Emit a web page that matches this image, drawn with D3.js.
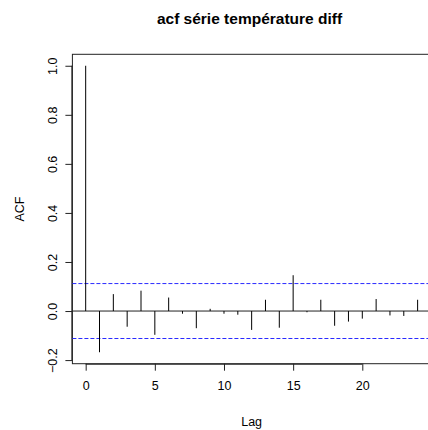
<!DOCTYPE html>
<html>
<head>
<meta charset="utf-8">
<script src="https://cdn.jsdelivr.net/npm/d3@7"></script>
<style>
  body { margin: 0; background: #fff; }
  text { font-family: "Liberation Sans", Arial, sans-serif; fill: #000; }
</style>
</head>
<body>
<div id="chart"></div>
<script>
var svgWidth = 428;
var svgHeight = 430;

// acf values, lag 0..24
var lags = d3.range(0, 25);
var acfValues = [1.0, -0.168, 0.069, -0.064, 0.083, -0.097, 0.055, -0.011, -0.070, 0.009,
                 -0.011, -0.015, -0.077, 0.046, -0.068, 0.146, -0.005, 0.046, -0.060, -0.043,
                 -0.031, 0.049, -0.018, -0.020, 0.046];
var ciLimit = 0.112;
var xTicks = [0, 5, 10, 15, 20];
var yTicks = [-0.2, 0.0, 0.2, 0.4, 0.6, 0.8, 1.0];

var plot = { left: 72.4, right: 430.9, top: 54.3, bottom: 363.7 };

var svg = d3.select("#chart")
    .append("svg")
    .attr("width", svgWidth)
    .attr("height", svgHeight);

// R style 4% padding around data range
var xMin = 0, xMax = 24;
var xPad = (xMax - xMin) * 0.04;
var yMin = d3.min(acfValues.concat([-ciLimit])), yMax = 1;
var yPad = (yMax - yMin) * 0.04;

var x = d3.scaleLinear()
    .domain([xMin - xPad, xMax + xPad])
    .range([plot.left, plot.right]);

var y = d3.scaleLinear()
    .domain([yMin - yPad, yMax + yPad])
    .range([plot.bottom, plot.top]);

// box
svg.append("rect")
    .attr("x", plot.left)
    .attr("y", plot.top)
    .attr("width", plot.right - plot.left)
    .attr("height", plot.bottom - plot.top)
    .attr("fill", "none")
    .attr("stroke", "#222")
    .attr("stroke-width", 1);

// axes
var bottomAxis = d3.axisBottom(x).tickValues(xTicks).tickSize(7).tickPadding(10).tickFormat(d3.format("d"));
var leftAxis = d3.axisLeft(y).tickValues(yTicks).tickSize(7).tickPadding(7).tickFormat(d3.format(".1f"));

var gx = svg.append("g")
    .attr("transform", `translate(0, ${plot.bottom})`)
    .call(bottomAxis);
gx.select(".domain").attr("d", `M${x(0)},0.5H${x(20)}`);
gx.selectAll("text").style("font-size", "12.5px");

var gy = svg.append("g")
    .attr("transform", `translate(${plot.left}, 0)`)
    .call(leftAxis);
gy.select(".domain").attr("d", `M-0.5,${y(-0.2)}V${y(1.0)}`);
gy.selectAll(".tick text")
    .style("font-size", "12.5px")
    .attr("text-anchor", "middle")
    .attr("x", 0)
    .attr("dy", 0)
    .attr("transform", "translate(-19,0) rotate(-90)")
    .attr("dominant-baseline", "middle");
svg.selectAll(".domain, .tick line").attr("stroke", "#222");

// zero line
svg.append("line")
    .attr("x1", plot.left)
    .attr("x2", plot.right)
    .attr("y1", y(0))
    .attr("y2", y(0))
    .attr("stroke", "#222");

// confidence limits
svg.selectAll(".ci")
    .data([ciLimit, -ciLimit])
    .enter()
    .append("line")
    .attr("class", "ci")
    .attr("x1", plot.left)
    .attr("x2", plot.right)
    .attr("y1", d => y(d))
    .attr("y2", d => y(d))
    .attr("stroke", "#2a2aff")
    .attr("stroke-dasharray", "4,2");

// acf spikes
svg.selectAll(".spike")
    .data(lags)
    .enter()
    .append("line")
    .attr("class", "spike")
    .attr("x1", d => x(d))
    .attr("x2", d => x(d))
    .attr("y1", y(0))
    .attr("y2", d => y(acfValues[d]))
    .attr("stroke", "#000");

// labels
svg.append("text")
    .attr("x", 249.5)
    .attr("y", 24)
    .attr("text-anchor", "middle")
    .style("font-size", "15.5px")
    .style("font-weight", "bold")
    .text("acf série température diff");

svg.append("text")
    .attr("x", (plot.left + plot.right) / 2)
    .attr("y", 426)
    .attr("text-anchor", "middle")
    .style("font-size", "12.5px")
    .text("Lag");

svg.append("text")
    .attr("transform", `translate(24, ${(plot.top + plot.bottom) / 2}) rotate(-90)`)
    .attr("text-anchor", "middle")
    .style("font-size", "12.5px")
    .text("ACF");
</script>
</body>
</html>
